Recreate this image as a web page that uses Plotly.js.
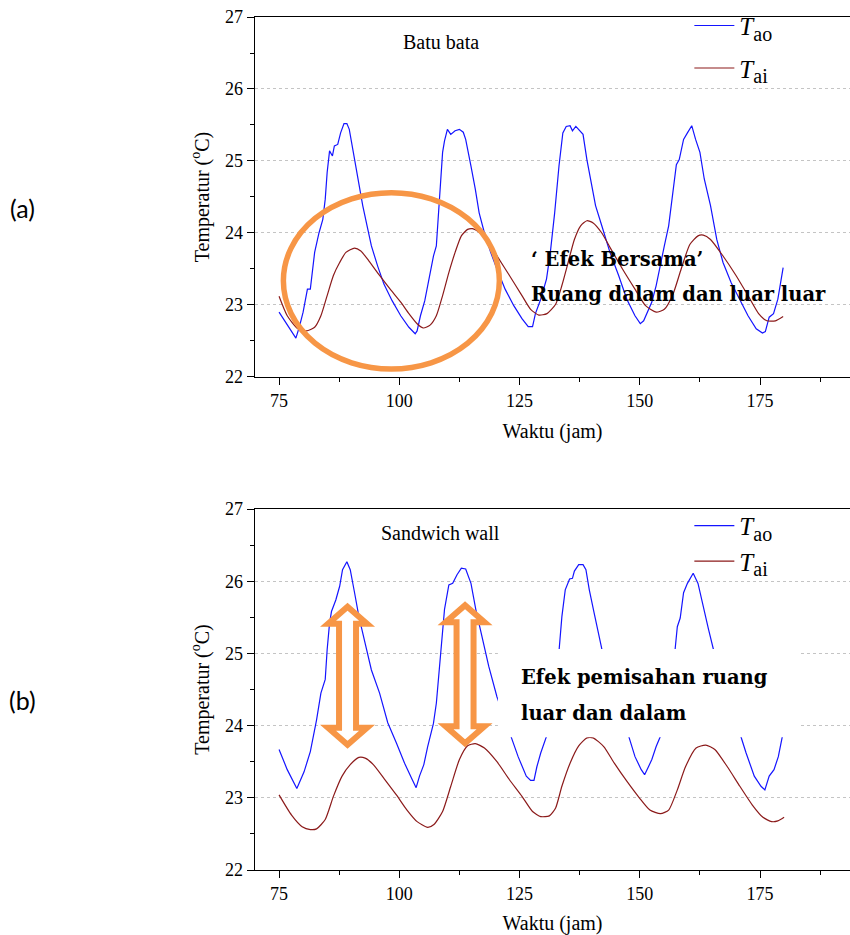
<!DOCTYPE html>
<html>
<head>
<meta charset="utf-8">
<script src="https://cdn.plot.ly/plotly-3.0.1.min.js"></script>
<style>html,body{margin:0;padding:0;background:#fff;}#chart{width:850px;height:935px;}</style>
</head>
<body>
<div id="chart"></div>
<script>
// ---------- DATA ----------
// (a) Batu bata
const topAoHours = [75,78.5,79.2,80,80.9,81.5,82.4,83.3,84.1,84.6,85,85.5,86.1,86.5,87.2,87.8,88.5,89.1,89.6,90.2,
  90.9,91.6,92.4,93.3,94.2,95.5,96.8,98.5,100.3,102,103.3,103.7,104.4,105.3,106.2,107.1,107.7,108.1,108.5,109,
  109.4,110,110.7,111.6,112.5,113.3,113.8,114.2,114.9,115.8,116.6,117.7,119,120.3,122,123.8,125.5,126.8,127.7,128.3,
  129.4,130.6,131.4,132.3,133.2,134,134.7,135.5,136,136.7,137.5,138.2,139,139.9,140.8,142.1,143.8,145.6,147.3,149,
  150.1,150.8,151.7,152.5,153.4,154.3,155.1,156,156.9,157.6,158.2,159.1,159.9,160.8,161.6,162.5,163.4,164.7,166,167.3,
  169,170.8,172.5,174.2,175.5,176.1,176.9,177.8,178.7,179.8];
const topAo = [22.90,22.54,22.69,22.90,23.22,23.22,23.73,24.00,24.19,24.47,24.84,25.14,25.07,25.21,25.23,25.39,25.52,25.52,25.44,25.21,
  24.93,24.70,24.38,24.10,23.82,23.54,23.29,23.06,22.85,22.69,22.60,22.64,22.85,23.06,23.36,23.68,23.82,24.24,24.65,25.12,
  25.28,25.44,25.37,25.42,25.44,25.40,25.30,25.18,24.93,24.61,24.28,24.00,23.73,23.50,23.22,22.99,22.81,22.70,22.70,22.88,
  23.08,23.36,23.73,24.28,24.93,25.39,25.48,25.49,25.42,25.48,25.42,25.37,25.02,24.70,24.38,24.10,23.73,23.41,23.08,22.85,
  22.74,22.78,22.92,23.04,23.27,23.54,23.82,24.10,24.56,24.95,25.02,25.30,25.39,25.49,25.30,25.12,24.75,24.38,23.91,23.59,
  23.31,23.08,22.85,22.67,22.61,22.63,22.83,22.88,23.08,23.52];

const topAiHours = [75,76.7,78.9,80.7,82.4,83.7,85,86.3,87.6,88.9,90.7,92,93.7,95.9,98.1,100.3,102,103.7,105,106.4,
  107.7,109,110.3,111.6,112.9,114.2,115.2,116.8,118.6,120.7,122.9,125.5,127.3,129,130.7,132.5,133.8,135.1,136.4,137.7,
  139,140.3,142.1,143.8,146.4,149,151.2,153.4,155.1,156.9,158.6,160.4,162.1,163.2,164.7,167.3,170,172.5,174.7,176.4,
  178.2,179.8];
const topAi = [23.12,22.85,22.67,22.64,22.69,22.85,23.13,23.41,23.59,23.73,23.79,23.75,23.61,23.41,23.22,23.04,22.88,22.74,22.68,22.72,
  22.85,23.13,23.45,23.73,23.96,24.05,24.06,24.00,23.87,23.64,23.41,23.13,22.94,22.86,22.88,23.01,23.27,23.59,23.91,24.10,
  24.17,24.14,24.00,23.80,23.50,23.22,22.99,22.90,22.94,23.15,23.50,23.84,23.96,23.97,23.91,23.68,23.41,23.13,22.88,22.78,
  22.78,22.84];

// (b) Sandwich wall
const botAoHours = [75,76.7,78.7,79.4,80.2,81.5,82.8,83.7,84.6,85,85.5,85.9,86.8,87.6,88.2,89.1,89.8,90.7,91.6,92.9,
  94.2,95.9,97.6,99.4,101.1,102.7,103.5,104.2,105.1,105.9,107.1,107.7,108.5,109.4,110.3,111.1,112,112.9,113.8,114.9,
  115.9,117.2,118.6,120.3,123.3,124.7,126.4,127.3,128,128.6,129.4,130.6,133.2,133.8,134.5,135.4,136,136.4,137.3,138.2,
  138.8,139.5,140.5,141.6,142.3,147.7,149,150.3,151,151.8,152.5,153.4,154.4,157.3,157.8,158.4,159.1,159.9,161.1,162.1,
  163,164.3,165.4,170.8,172.1,173.8,175.2,176,176.9,177.9,178.8,179.7];
const botAo = [23.67,23.39,23.13,23.25,23.36,23.64,24.08,24.45,24.64,25.05,25.42,25.58,25.74,25.93,26.16,26.27,26.16,25.84,25.51,25.14,
  24.77,24.45,24.04,23.76,23.48,23.25,23.14,23.30,23.46,23.71,24.03,24.31,24.91,25.61,25.95,25.97,26.09,26.18,26.17,25.97,
  25.61,25.24,24.82,24.40,23.85,23.57,23.30,23.24,23.24,23.43,23.62,23.85,25.03,25.51,25.88,26.03,26.04,26.14,26.23,26.23,
  26.16,25.88,25.56,25.24,25.00,23.85,23.57,23.39,23.32,23.43,23.53,23.71,23.87,25.03,25.37,25.49,25.84,25.97,26.11,25.97,
  25.70,25.33,25.03,23.87,23.62,23.30,23.16,23.11,23.30,23.39,23.57,23.87];

const botAiHours = [75,77.6,79.8,81.5,82.8,84.6,86.3,88.1,89.8,91.6,92.9,94.6,96.8,99.4,101.6,103.7,105.9,107.2,109,110.7,
  112.5,114.2,115.8,117.7,120.3,122.9,125.5,127.7,129.4,131.2,132.5,133.8,135.5,137.3,139,140.3,142.5,144.7,147.3,149.9,
  152.1,154.3,156,157.8,159.5,161.7,163.7,165.6,168.2,170.8,173.4,175.6,177.4,178.7,180];
const botAi = [23.04,22.76,22.60,22.56,22.57,22.70,23.02,23.30,23.46,23.56,23.55,23.46,23.27,23.04,22.83,22.67,22.59,22.63,22.81,23.16,
  23.53,23.72,23.75,23.69,23.50,23.25,23.02,22.81,22.74,22.75,22.86,23.16,23.48,23.72,23.83,23.83,23.71,23.48,23.23,23.00,
  22.83,22.78,22.83,23.11,23.43,23.69,23.73,23.67,23.43,23.16,22.90,22.73,22.67,22.68,22.73];

const seriesNames = ['<i>T</i><sub><span style="font-size:20px">ao</span></sub>',
                     '<i>T</i><sub><span style="font-size:20px">ai</span></sub>'];
const panelLabels = ['(a)', '(b)'];
const panelTitles = ['Batu bata', 'Sandwich wall'];
const noteTop = ['\u2018 Efek Bersama\u2019', 'Ruang dalam dan luar luar'];
const noteBottom = ['Efek pemisahan ruang', 'luar dan dalam'];
const xTitle = 'Waktu (jam)';
const yTitle = 'Temperatur (<sup>o</sup>C)';

// ---------- STYLE ----------
const BLUE = '#1414ff';
const RED = '#8b1a1a';
const ORANGE = '#f79646';
const SERIF = 'Liberation Serif';
const BOLDSERIF = 'DejaVu Serif';

function line(x, y, name, color, xa, ya, leg, group, smooth) {
  return {x: x, y: y, name: name, type: 'scatter', mode: 'lines', xaxis: xa, yaxis: ya, legend: leg,
    legendgroup: group,
    line: {color: color, width: 1.2, shape: smooth ? 'spline' : 'linear', smoothing: 0.6}};
}

const traces = [
  line(topAoHours, topAo, seriesNames[0], BLUE, 'x', 'y', 'legend', 'a1', false),
  line(topAiHours, topAi, seriesNames[1], RED, 'x', 'y', 'legend', 'a2', true),
  line(botAoHours, botAo, seriesNames[0], BLUE, 'x2', 'y2', 'legend2', 'b1', false),
  line(botAiHours, botAi, seriesNames[1], RED, 'x2', 'y2', 'legend2', 'b2', true)
];

function xaxisDef(anchor) {
  return {
    anchor: anchor, domain: [0, 1], range: [70, 193.7],
    tick0: 75, dtick: 25, ticks: 'outside', ticklen: 7, tickwidth: 1, tickcolor: '#000',
    minor: {dtick: 12.5, tick0: 75, ticks: 'outside', ticklen: 3.5, tickwidth: 1, tickcolor: '#000', showgrid: false},
    showline: true, linecolor: '#000', linewidth: 1.3, mirror: true,
    showgrid: false, zeroline: false,
    tickfont: {family: SERIF, size: 18, color: '#000'},
    title: {text: xTitle, font: {family: SERIF, size: 20, color: '#000'}, standoff: 14}
  };
}
function yaxisDef(domain, anchor) {
  return {
    anchor: anchor, domain: domain, range: [22, 27],
    tick0: 22, dtick: 1, ticks: 'outside', ticklen: 7, tickwidth: 1, tickcolor: '#000',
    minor: {dtick: 0.5, tick0: 22, ticks: 'outside', ticklen: 3.5, tickwidth: 1, tickcolor: '#000', showgrid: false},
    showline: true, linecolor: '#000', linewidth: 1.3, mirror: false,
    showgrid: true, gridcolor: '#c4c4c4', griddash: 'dot', gridwidth: 1, zeroline: false,
    tickfont: {family: SERIF, size: 18, color: '#000'},
    title: {text: yTitle, font: {family: SERIF, size: 20, color: '#000'}, standoff: 10}
  };
}

const arrowPath = 'M0,69 L19.5,52 L8.5,52 L8.5,-52 L19.5,-52 L0,-69 L-19.5,-52 L-8.5,-52 L-8.5,52 L-19.5,52 Z';
function arrow(xc, yc) {
  return {type: 'path', xref: 'x2', yref: 'y2', xsizemode: 'pixel', ysizemode: 'pixel',
    xanchor: xc, yanchor: yc, path: arrowPath, fillcolor: '#ffffff',
    line: {color: ORANGE, width: 6}, layer: 'above'};
}

const legendStyle = {
  xref: 'paper', yref: 'paper', xanchor: 'left', yanchor: 'top',
  bgcolor: 'rgba(0,0,0,0)', borderwidth: 0,
  font: {family: SERIF, size: 25, color: '#000'}, itemwidth: 40
};

function note(text, x, y, xr, yr, font, anchor) {
  return {text: text, x: x, y: y, xref: xr, yref: yr, showarrow: false, xanchor: anchor || 'center', yanchor: 'middle', font: font};
}
const boldFont = {family: BOLDSERIF, size: 19.5, color: '#000', weight: 'bold'};
const titleFont = {family: SERIF, size: 20, color: '#000'};
const labelFont = {family: 'Lato', size: 25, color: '#000'};

const layout = {
  width: 850, height: 935,
  margin: {l: 255, r: 0, t: 17, b: 65},
  paper_bgcolor: '#fff', plot_bgcolor: '#fff',
  showlegend: true,
  xaxis: xaxisDef('y'),
  yaxis: yaxisDef([0.578, 1], 'x'),
  xaxis2: xaxisDef('y2'),
  yaxis2: yaxisDef([0, 0.4232], 'x2'),
  legend: Object.assign({}, legendStyle, {x: 0.73, y: 1.0167, tracegroupgap: 7}),
  legend2: Object.assign({}, legendStyle, {x: 0.73, y: 0.4304, tracegroupgap: 0}),
  shapes: [
    {type: 'circle', xref: 'x', yref: 'y', x0: 75.9, x1: 120.8, y0: 22.11, y1: 24.56,
      line: {color: ORANGE, width: 5.5}, fillcolor: 'rgba(0,0,0,0)', layer: 'above'},
    {type: 'rect', xref: 'x2', yref: 'y2', x0: 120.5, x1: 183.5, y0: 23.84, y1: 25.06,
      fillcolor: '#ffffff', line: {width: 0}, layer: 'above'},
    arrow(89.24, 24.69),
    arrow(113.67, 24.71)
  ],
  annotations: [
    note(panelLabels[0], -0.39, 0.776, 'paper', 'paper', labelFont),
    note(panelLabels[1], -0.39, 0.1993, 'paper', 'paper', labelFont),
    note(panelTitles[0], 108.7, 26.65, 'x', 'y', titleFont),
    note(panelTitles[1], 108.5, 26.67, 'x2', 'y2', titleFont),
    note(noteTop[0], 126.9, 23.625, 'x', 'y', boldFont, 'left'),
    note(noteTop[1], 126.9, 23.14, 'x', 'y', boldFont, 'left'),
    note(noteBottom[0], 124.9, 24.66, 'x2', 'y2', boldFont, 'left'),
    note(noteBottom[1], 124.9, 24.17, 'x2', 'y2', boldFont, 'left')
  ]
};

Plotly.newPlot('chart', traces, layout, {displayModeBar: false, staticPlot: true});
</script>
</body>
</html>
